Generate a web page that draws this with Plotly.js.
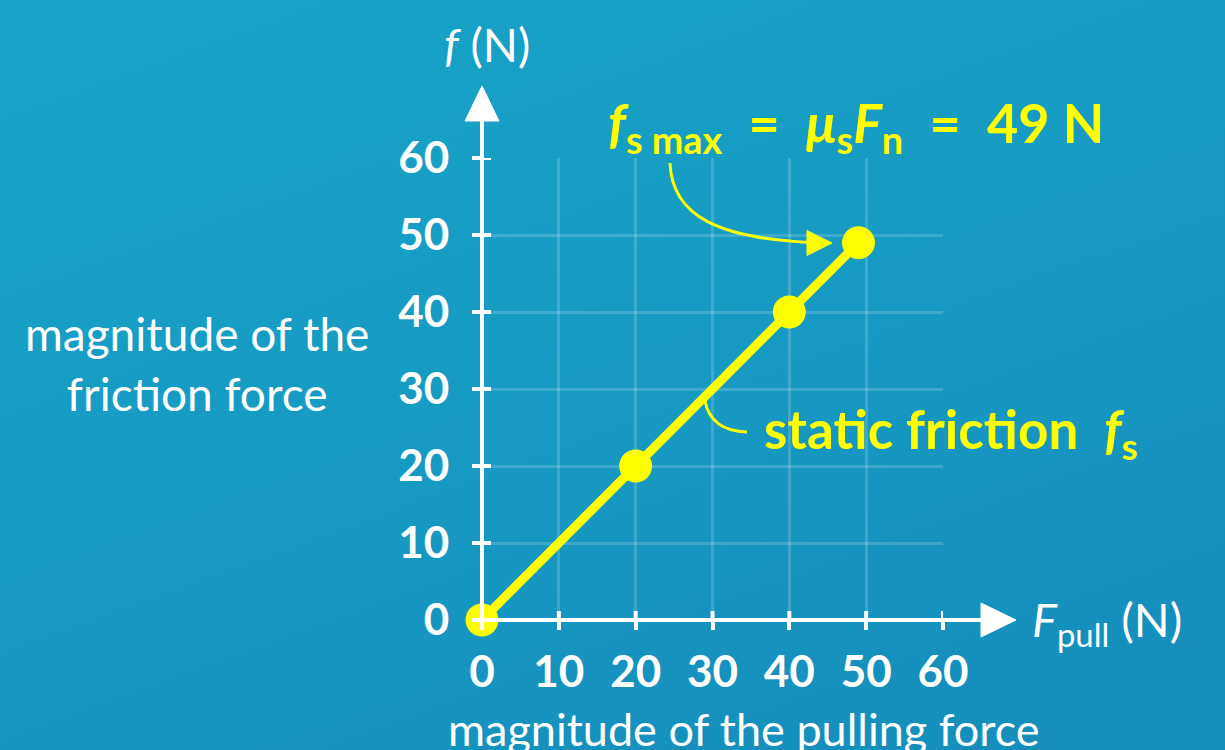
<!DOCTYPE html>
<html>
<head>
<meta charset="utf-8">
<script src="https://cdn.plot.ly/plotly-3.0.1.min.js"></script>
<style>
  html, body { margin: 0; padding: 0; }
  body { width: 1225px; height: 750px; overflow: hidden;
         background: linear-gradient(160deg, #18a4c8 0%, #1699c2 55%, #158cba 100%); }
  #chart { width: 1225px; height: 750px; }
</style>
</head>
<body>
<div id="chart"></div>
<script>
// ---- data ----
const pullingForce = [0, 20, 40, 49];      // F_pull (N)
const frictionForce = [0, 20, 40, 49];     // f (N)
const tickValues = [0, 10, 20, 30, 40, 50, 60];
const tickLabels = ['0', '10', '20', '30', '40', '50', '60'];
const axisRange = [0, 60];

// ---- styles ----
const W = 1225, H = 750;
const M = { l: 482, r: 282, t: 158, b: 130 };
const PW = W - M.l - M.r, PH = H - M.t - M.b;
const YELLOW = '#ffff00';
const WHITE = '#ffffff';
const FONT = 'Lato, "Noto Sans", sans-serif';
const NB = '\u00A0';

// pixel -> paper helpers for decorations
const px = v => (v - M.l) / PW;
const py = v => (H - M.b - v) / PH;

const shapes = [];
// axis lines with arrowheads
shapes.push({ type: 'line', xref: 'paper', yref: 'paper', x0: 0, y0: py(620), x1: px(990), y1: py(620),
  line: { color: WHITE, width: 4 }, layer: 'above' });
shapes.push({ type: 'path', xref: 'paper', yref: 'paper', layer: 'above',
  path: `M ${px(1016)} ${py(620)} L ${px(981)} ${py(603)} L ${px(981)} ${py(637)} Z`,
  fillcolor: WHITE, line: { color: WHITE, width: 1 } });
shapes.push({ type: 'line', xref: 'paper', yref: 'paper', x0: 0, y0: py(620), x1: 0, y1: py(115),
  line: { color: WHITE, width: 4 }, layer: 'above' });
shapes.push({ type: 'path', xref: 'paper', yref: 'paper', layer: 'above',
  path: `M ${px(482)} ${py(86)} L ${px(465)} ${py(121)} L ${px(499)} ${py(121)} Z`,
  fillcolor: WHITE, line: { color: WHITE, width: 1 } });
// inner halves of the crossing tick marks
tickValues.slice(1).forEach(v => {
  shapes.push({ type: 'line', xref: 'x', yref: 'paper', ysizemode: 'pixel', yanchor: 0,
    x0: v, x1: v, y0: 0, y1: 9, line: { color: WHITE, width: 4 }, layer: 'above' });
  shapes.push({ type: 'line', yref: 'y', xref: 'paper', xsizemode: 'pixel', xanchor: 0,
    y0: v, y1: v, x0: 0, x1: 9, line: { color: WHITE, width: 4 }, layer: 'above' });
});
// curved pointer to max static friction
shapes.push({ type: 'path', xref: 'paper', yref: 'paper', layer: 'above',
  path: `M ${px(670)} ${py(163)} C ${px(672)} ${py(218)} ${px(722)} ${py(238)} ${px(809)} ${py(242.5)}`,
  line: { color: YELLOW, width: 3 } });
shapes.push({ type: 'path', xref: 'paper', yref: 'paper', layer: 'above',
  path: `M ${px(832)} ${py(243)} L ${px(807)} ${py(230.5)} L ${px(807)} ${py(255.5)} Z`,
  fillcolor: YELLOW, line: { color: YELLOW, width: 1 } });
// small curved leader for "static friction"
shapes.push({ type: 'path', xref: 'paper', yref: 'paper', layer: 'above',
  path: `M ${px(705)} ${py(401)} Q ${px(711)} ${py(431)} ${px(747)} ${py(432)}`,
  line: { color: YELLOW, width: 3 } });

const ann = (text, x, y, size, color, xanchor, extra) => Object.assign({
  text: text, x: px(x), y: py(y), xref: 'paper', yref: 'paper', showarrow: false,
  xanchor: xanchor || 'center', yanchor: 'middle',
  font: { family: FONT, size: size, color: color } }, extra || {});

const annotations = [
  ann('<i>f</i>' + NB + '(N)', 487, 45, 46, WHITE),
  ann('<b><i>f</i><sub>s max</sub>' + NB + NB + '=' + NB + NB + '<i>μ</i><sub>s</sub><i>F</i><sub>n</sub>' +
      NB + NB + '=' + NB + NB + '49 N</b>', 606, 126, 54, YELLOW, 'left'),
  ann('<b>static friction' + NB + NB + '<i>f</i><sub>s</sub></b>', 762, 432, 53, YELLOW, 'left'),
  ann('<i>F</i><sub>pull</sub>' + NB + '(N)', 1030, 622, 47, WHITE, 'left'),
  ann('magnitude of the<br>friction force', 197, 363, 46, WHITE),
  ann('magnitude of the pulling force', 744, 729, 45, WHITE)
];

const trace = {
  x: pullingForce, y: frictionForce, type: 'scatter', mode: 'lines+markers',
  line: { color: YELLOW, width: 9 },
  marker: { color: YELLOW, size: 33 },
  cliponaxis: false, hoverinfo: 'skip'
};

const axisCommon = {
  range: axisRange, tickmode: 'array', tickvals: tickValues, ticktext: tickLabels,
  showgrid: true, gridcolor: 'rgba(255,255,255,0.17)', gridwidth: 3,
  zeroline: false, showline: false, ticks: 'outside', ticklen: 9, tickwidth: 4, tickcolor: WHITE,
  tickfont: { family: FONT, size: 44, color: WHITE, weight: 'bold' }, fixedrange: true
};

const layout = {
  width: W, height: H, margin: M,
  paper_bgcolor: 'rgba(0,0,0,0)', plot_bgcolor: 'rgba(0,0,0,0)',
  showlegend: false,
  xaxis: Object.assign({}, axisCommon, { ticklabelstandoff: 4 }),
  yaxis: Object.assign({}, axisCommon, { ticklabelstandoff: 14 }),
  shapes: shapes, annotations: annotations
};

Plotly.newPlot('chart', [trace], layout, { displayModeBar: false, staticPlot: true });
</script>
</body>
</html>
